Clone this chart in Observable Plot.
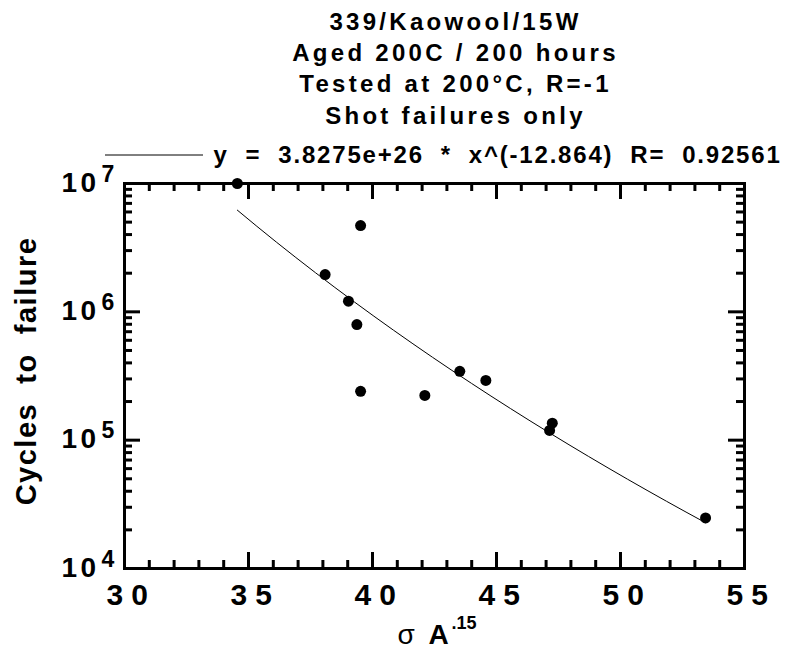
<!DOCTYPE html>
<html>
<head>
<meta charset="utf-8">
<script src="https://cdn.jsdelivr.net/npm/d3@7"></script>
<script src="https://cdn.jsdelivr.net/npm/@observablehq/plot@0.6"></script>
<style>
  body { margin: 0; background: #fff; }
  #chart { color: black; background: white; font-family: 'Liberation Sans', Arial, Helvetica, sans-serif; }
  #chart svg text { white-space: pre; }
</style>
</head>
<body>
<div id="chart"></div>
<script>
// Fatigue results: stress parameter vs. cycles to failure (shot failures)
const stress = [34.55, 39.52, 38.09, 39.03, 39.37, 39.52, 42.11, 43.52, 44.57, 47.25, 47.14, 53.43];
const cycles = [1.0e7, 4.7e6, 1.95e6, 1.21e6, 7.96e5, 2.40e5, 2.23e5, 3.44e5, 2.92e5, 1.355e5, 1.19e5, 2.48e4];

// Power-law fit  y = A * x^B  and its correlation
const fitA = 3.8275e26;
const fitB = -12.864;
const fitR = 0.92561;

const titleLines = ["339/Kaowool/15W", "Aged 200C / 200 hours", "Tested at 200\u00B0C, R=-1", "Shot failures only"];
const xLabel = ["\u03C3", "A", ".15"];
const yLabel = "Cycles  to  failure";

const xMajor = [30, 35, 40, 45, 50, 55];
const yMajor = [1e4, 1e5, 1e6, 1e7];

// minor ticks: every unit on x, 2..9 per decade on y
const xMinor = d3.range(30, 56).filter(v => v % 5 !== 0);
const yMinor = [];
for (let e = 4; e < 7; e++) for (let m = 2; m <= 9; m++) yMinor.push(m * 10 ** e);

const points = stress.map((s, i) => ({s, n: cycles[i]}));

// fitted curve across the tested range
const xLo = d3.min(stress), xHi = d3.max(stress);
const fit = d3.range(0, 25).map(i => {
  const s = xLo + (xHi - xLo) * i / 24;
  return {s, n: fitA * Math.pow(s, fitB)};
});

const eqText = `y  =  ${fitA.toExponential(4)}  *  x^(${fitB})  R=  ${fitR}`;

const font = "'Liberation Sans', Arial, Helvetica, sans-serif";
const W = 787, H = 648;
const mL = 124, mR = 43, mT = 183, mB = 80;
const fw = W - mL - mR, fh = H - mT - mB;
const cx = mL + fw / 2;

const bold = {fontWeight: "bold", fontFamily: font, fill: "black"};

// inward tick marks: rules across the frame, inset so only `len` pixels remain at one side
const tk = {stroke: "black", strokeWidth: 3};
const ticksBottom = (v, len) => Plot.ruleX(v, {x: d => d, insetTop: fh - len, ...tk});
const ticksTop = (v, len) => Plot.ruleX(v, {x: d => d, insetBottom: fh - len, ...tk});
const ticksLeft = (v, len) => Plot.ruleY(v, {y: d => d, insetRight: fw - len, ...tk});
const ticksRight = (v, len) => Plot.ruleY(v, {y: d => d, insetLeft: fw - len, ...tk});

const legendLine = (index, scales, values, dims) => {
  const y = dims.marginTop - 28;
  return d3.create("svg:line")
    .attr("x1", cx - 329).attr("x2", cx - 231)
    .attr("y1", y).attr("y2", y)
    .attr("stroke", "black").attr("stroke-width", 1)
    .node();
};

const chart = Plot.plot({
  width: W,
  height: H,
  marginLeft: mL,
  marginRight: mR,
  marginTop: mT,
  marginBottom: mB,
  x: {domain: [30, 55], label: null, axis: null},
  y: {type: "log", domain: [1e4, 1e7], label: null, axis: null},
  marks: [
    ticksBottom(xMajor, 16), ticksBottom(xMinor, 8),
    ticksTop(xMajor, 16), ticksTop(xMinor, 8),
    ticksLeft(yMajor, 16), ticksLeft(yMinor, 8),
    ticksRight(yMajor, 16), ticksRight(yMinor, 8),
    Plot.frame({stroke: "black", strokeWidth: 3}),

    // tick labels
    Plot.text(xMajor, {x: d => d, frameAnchor: "bottom", text: d => String(d), textAnchor: "start",
      dx: -18, dy: 36, lineAnchor: "bottom", fontSize: 30, ...bold}),
    Plot.text(yMajor, {y: d => d, frameAnchor: "left", text: () => "10", textAnchor: "start",
      dx: -63, dy: 8, lineAnchor: "bottom", fontSize: 28, ...bold}),
    Plot.text(yMajor, {y: d => d, frameAnchor: "left", text: d => String(Math.round(Math.log10(d))), textAnchor: "start",
      dx: -23, dy: -2, lineAnchor: "bottom", fontSize: 23, ...bold}),

    // axis titles
    Plot.text([yLabel], {frameAnchor: "left", textAnchor: "middle", rotate: -90, dx: -89, dy: -5, lineAnchor: "bottom",
      fontSize: 29, ...bold}),
    Plot.text([xLabel[0]], {frameAnchor: "bottom", textAnchor: "start", dx: -37, dy: 75, lineAnchor: "bottom",
      fontSize: 28, fontFamily: font, fill: "black"}),
    Plot.text([xLabel[1]], {frameAnchor: "bottom", textAnchor: "start", dx: -6, dy: 75, lineAnchor: "bottom",
      fontSize: 28, ...bold}),
    Plot.text([xLabel[2]], {frameAnchor: "bottom", textAnchor: "start", dx: 17, dy: 60, lineAnchor: "bottom",
      fontSize: 18, ...bold}),

    // title block and fit legend
    Plot.text([titleLines.join("\n")], {frameAnchor: "top", textAnchor: "middle", dx: 21, dy: -60, lineAnchor: "bottom",
      lineHeight: 1.305, fontSize: 24, ...bold}),
    legendLine,
    Plot.text([eqText], {frameAnchor: "top", textAnchor: "start", dx: 213 - cx, dy: -21, lineAnchor: "bottom",
      fontSize: 24, ...bold}),

    // data
    Plot.line(fit, {x: "s", y: "n", stroke: "black", strokeWidth: 1}),
    Plot.dot(points, {x: "s", y: "n", r: 5.5, fill: "black", stroke: "none"})
  ]
});

// letter spacing for the text groups, picked out by their content
const spacing = [
  [t => t.includes("Kaowool"), "3.3px"],
  [t => t === eqText, "1.8px"],
  [t => xMajor.map(String).includes(t), "8px"],
  [t => t === "10", "3.5px"],
  [t => t === yLabel, "1.5px"]
];
d3.select(chart).selectAll("text").each(function() {
  const t = this.textContent;
  for (const [test, ls] of spacing) {
    if (test(t)) { this.style.letterSpacing = ls; break; }
  }
});

document.getElementById("chart").appendChild(chart);
</script>
</body>
</html>
